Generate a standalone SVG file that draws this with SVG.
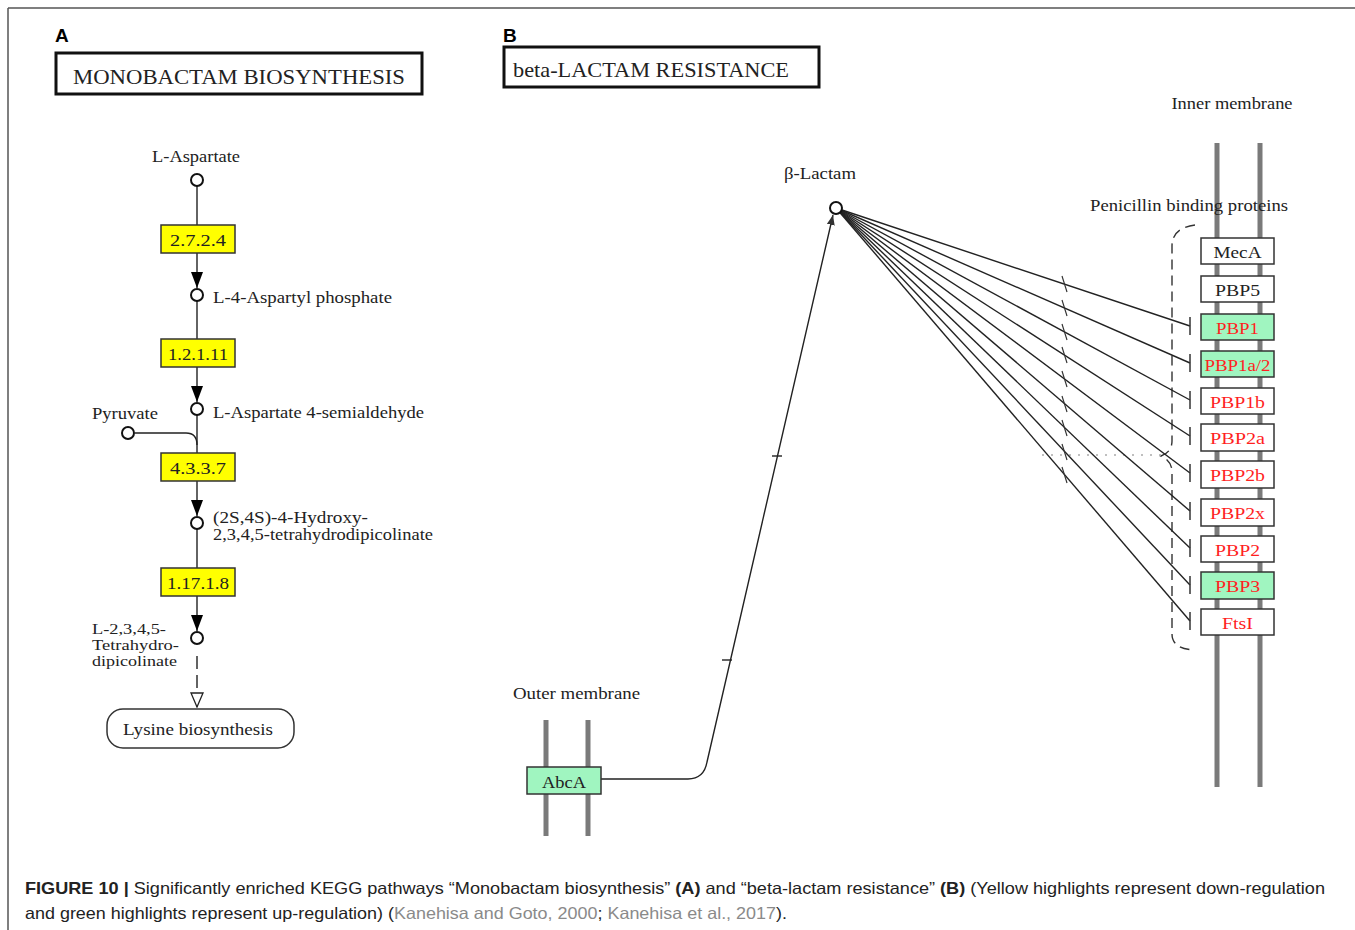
<svg xmlns="http://www.w3.org/2000/svg" width="1355" height="930" viewBox="0 0 1355 930">
<style>
.kl{font-family:"Liberation Serif","DejaVu Serif",serif;font-size:17px;fill:#222}
.ks{font-size:15.5px}
.ttl{font-family:"Liberation Serif","DejaVu Serif",serif;font-size:21px;fill:#222}
.pl{font-family:"Liberation Sans",Arial,sans-serif;font-weight:bold;font-size:19px;fill:#000}
.cap{font-family:"Liberation Sans",Arial,sans-serif;font-size:16.5px;fill:#222}
.cit{fill:#8a8a8a}
.enz{fill:#ffff00;stroke:#333;stroke-width:1.5}
.gene{fill:#fff;stroke:#333;stroke-width:1.5}
.up{fill:#a0f5c0;stroke:#333;stroke-width:1.5}
.red{fill:#ff1f1f}
.cpd{fill:#fff;stroke:#111;stroke-width:2}
.ln{fill:none;stroke:#222;stroke-width:1.4}
.mem{fill:#7a7a7a}
.tb{fill:none;stroke:#333;stroke-width:1.5}
</style>
<defs>
<marker id="arr" viewBox="0 0 16 12" refX="16" refY="6" markerWidth="16" markerHeight="12" markerUnits="userSpaceOnUse" orient="auto">
<path d="M0,0 L16,6 L0,12 z" fill="#000"/>
</marker>
<marker id="oarr" viewBox="0 0 16 14" refX="15" refY="7" markerWidth="16" markerHeight="14" markerUnits="userSpaceOnUse" orient="auto">
<path d="M1,1 L15,7 L1,13 z" fill="#fff" stroke="#222" stroke-width="1.3"/>
</marker>
<marker id="sarr" viewBox="0 0 10 8" refX="10" refY="4" markerWidth="10" markerHeight="8" markerUnits="userSpaceOnUse" orient="auto">
<path d="M0,0 L10,4 L0,8 z" fill="#333"/>
</marker>
</defs>

<!-- frame -->
<g id="frame">
<line x1="8" y1="8" x2="1355" y2="8" stroke="#555" stroke-width="1.5"/>
<line x1="8" y1="8" x2="8" y2="930" stroke="#555" stroke-width="1.5"/>
</g>

<!-- Panel A -->
<g id="panelA-label"><text class="pl" x="55" y="42">A</text></g>
<g id="titleA">
<rect x="56" y="53" width="366" height="41" fill="#fff" stroke="#111" stroke-width="3"/>
<text class="ttl" x="73" y="84" textLength="332" lengthAdjust="spacingAndGlyphs">MONOBACTAM  BIOSYNTHESIS</text>
</g>

<g id="connectorsA">
<line class="ln" x1="197" y1="186" x2="197" y2="225"/>
<line class="ln" x1="197" y1="253" x2="197" y2="288" marker-end="url(#arr)"/>
<line class="ln" x1="197" y1="301" x2="197" y2="339"/>
<line class="ln" x1="197" y1="367" x2="197" y2="402" marker-end="url(#arr)"/>
<line class="ln" x1="197" y1="415" x2="197" y2="453"/>
<path class="ln" d="M135,433 H186 Q197,433 197,445"/>
<line class="ln" x1="197" y1="481" x2="197" y2="516" marker-end="url(#arr)"/>
<line class="ln" x1="197" y1="529" x2="197" y2="568"/>
<line class="ln" x1="197" y1="596" x2="197" y2="631" marker-end="url(#arr)"/>
<line class="ln" x1="197" y1="656" x2="197" y2="707" stroke-dasharray="13 6" marker-end="url(#oarr)"/>
</g>

<g id="c-laspartate">
<text class="kl" x="196" y="162" text-anchor="middle" textLength="88" lengthAdjust="spacingAndGlyphs">L-Aspartate</text>
<circle class="cpd" cx="197" cy="180" r="6"/>
</g>
<g id="e-2724">
<rect class="enz" x="161" y="225" width="74" height="28"/>
<text class="kl" x="198" y="246" text-anchor="middle" textLength="56" lengthAdjust="spacingAndGlyphs">2.7.2.4</text>
</g>
<g id="c-l4asp">
<circle class="cpd" cx="197" cy="295" r="6"/>
<text class="kl" x="213" y="303" textLength="179" lengthAdjust="spacingAndGlyphs">L-4-Aspartyl phosphate</text>
</g>
<g id="e-12111">
<rect class="enz" x="161" y="339" width="74" height="28"/>
<text class="kl" x="198" y="360" text-anchor="middle" textLength="60" lengthAdjust="spacingAndGlyphs">1.2.1.11</text>
</g>
<g id="c-semiald">
<circle class="cpd" cx="197" cy="409" r="6"/>
<text class="kl" x="213" y="418" textLength="211" lengthAdjust="spacingAndGlyphs">L-Aspartate 4-semialdehyde</text>
</g>
<g id="c-pyruvate">
<text class="kl" x="92" y="419" textLength="66" lengthAdjust="spacingAndGlyphs">Pyruvate</text>
<circle class="cpd" cx="128" cy="433" r="6"/>
</g>
<g id="e-4337">
<rect class="enz" x="161" y="453" width="74" height="28"/>
<text class="kl" x="198" y="474" text-anchor="middle" textLength="56" lengthAdjust="spacingAndGlyphs">4.3.3.7</text>
</g>
<g id="c-hthdp">
<circle class="cpd" cx="197" cy="523" r="6"/>
<text class="kl" x="213" y="523" textLength="155" lengthAdjust="spacingAndGlyphs">(2S,4S)-4-Hydroxy-</text>
<text class="kl" x="213" y="540" textLength="220" lengthAdjust="spacingAndGlyphs">2,3,4,5-tetrahydrodipicolinate</text>
</g>
<g id="e-11718">
<rect class="enz" x="161" y="568" width="74" height="28"/>
<text class="kl" x="198" y="589" text-anchor="middle" textLength="62" lengthAdjust="spacingAndGlyphs">1.17.1.8</text>
</g>
<g id="c-thdp">
<circle class="cpd" cx="197" cy="638" r="6"/>
<text class="kl ks" x="92" y="634" textLength="74" lengthAdjust="spacingAndGlyphs">L-2,3,4,5-</text>
<text class="kl ks" x="92" y="650" textLength="87" lengthAdjust="spacingAndGlyphs">Tetrahydro-</text>
<text class="kl ks" x="92" y="666" textLength="85" lengthAdjust="spacingAndGlyphs">dipicolinate</text>
</g>
<g id="m-lysine">
<rect x="107" y="709" width="187" height="39" rx="16" fill="#fff" stroke="#333" stroke-width="1.5"/>
<text class="kl" x="198" y="735" text-anchor="middle" textLength="150" lengthAdjust="spacingAndGlyphs">Lysine biosynthesis</text>
</g>

<!-- Panel B -->
<g id="panelB-label"><text class="pl" x="503" y="42">B</text></g>
<g id="titleB">
<rect x="504" y="47" width="315" height="40" fill="#fff" stroke="#111" stroke-width="3"/>
<text class="ttl" x="513" y="77" textLength="276" lengthAdjust="spacingAndGlyphs">beta-LACTAM  RESISTANCE</text>
</g>

<g id="membranes">
<text class="kl" x="1232" y="109" text-anchor="middle" textLength="121" lengthAdjust="spacingAndGlyphs">Inner membrane</text>
<rect class="mem" x="1214.5" y="143" width="5" height="644"/>
<rect class="mem" x="1257.5" y="143" width="5" height="644"/>
<text class="kl" x="513" y="699" textLength="127" lengthAdjust="spacingAndGlyphs">Outer membrane</text>
<rect class="mem" x="543.5" y="720" width="5" height="116"/>
<rect class="mem" x="585.5" y="720" width="5" height="116"/>
</g>

<g id="pbp-group">
<text class="kl" x="1090" y="211" textLength="198" lengthAdjust="spacingAndGlyphs">Penicillin binding proteins</text>
<path d="M1195,225 Q1172,228 1172,246 L1172,441 Q1172,452 1161,456 Q1172,461 1172,472 L1172,634 Q1172,649 1195,650" fill="none" stroke="#333" stroke-width="1.4" stroke-dasharray="10 6"/>
</g>

<g id="connectorsB">
<line x1="1042" y1="455" x2="1163" y2="455" stroke="#aaa" stroke-width="1.3" stroke-dasharray="2 7"/>
<path class="ln" d="M601,779 H688 Q704,779 707,762 L833,215" marker-end="url(#sarr)"/>
<line class="ln" x1="772" y1="456" x2="782" y2="456"/>
<line class="ln" x1="722" y1="660" x2="732" y2="660"/>
<g class="ln">
<line x1="836" y1="208" x2="1190" y2="326"/>
<line x1="836" y1="208" x2="1190" y2="363"/>
<line x1="836" y1="208" x2="1190" y2="400"/>
<line x1="836" y1="208" x2="1190" y2="436"/>
<line x1="836" y1="208" x2="1190" y2="473"/>
<line x1="836" y1="208" x2="1190" y2="511"/>
<line x1="836" y1="208" x2="1190" y2="548"/>
<line x1="836" y1="208" x2="1190" y2="585"/>
<line x1="836" y1="208" x2="1190" y2="621"/>
</g>
<g class="tb">
<line x1="1190" y1="317" x2="1190" y2="335"/>
<line x1="1190" y1="354" x2="1190" y2="372"/>
<line x1="1190" y1="391" x2="1190" y2="409"/>
<line x1="1190" y1="427" x2="1190" y2="445"/>
<line x1="1190" y1="464" x2="1190" y2="482"/>
<line x1="1190" y1="502" x2="1190" y2="520"/>
<line x1="1190" y1="539" x2="1190" y2="557"/>
<line x1="1190" y1="576" x2="1190" y2="594"/>
<line x1="1190" y1="612" x2="1190" y2="630"/>
</g>
<g stroke="#333" stroke-width="1.2" fill="none">
<line x1="1062" y1="276" x2="1067" y2="292"/>
<line x1="1062" y1="300" x2="1067" y2="316"/>
<line x1="1062" y1="324" x2="1067" y2="340"/>
<line x1="1062" y1="347" x2="1067" y2="363"/>
<line x1="1062" y1="371" x2="1067" y2="387"/>
<line x1="1062" y1="396" x2="1067" y2="412"/>
<line x1="1062" y1="420" x2="1067" y2="436"/>
<line x1="1062" y1="444" x2="1067" y2="460"/>
<line x1="1062" y1="467" x2="1067" y2="483"/>
</g>
</g>

<g id="c-betalactam">
<text class="kl" x="784" y="179" textLength="72" lengthAdjust="spacingAndGlyphs">β-Lactam</text>
<circle class="cpd" cx="836" cy="208" r="6"/>
</g>

<g id="g-abca">
<rect class="up" x="527" y="767" width="74" height="27"/>
<text class="kl" x="564" y="788" text-anchor="middle" textLength="44" lengthAdjust="spacingAndGlyphs">AbcA</text>
</g>

<g id="g-meca"><rect class="gene" x="1201" y="238" width="73" height="26"/><text class="kl" x="1237.5" y="258" text-anchor="middle" textLength="48" lengthAdjust="spacingAndGlyphs">MecA</text></g>
<g id="g-pbp5"><rect class="gene" x="1201" y="276" width="73" height="26"/><text class="kl" x="1237.5" y="296" text-anchor="middle" textLength="45" lengthAdjust="spacingAndGlyphs">PBP5</text></g>
<g id="g-pbp1"><rect class="up" x="1201" y="314" width="73" height="26"/><text class="kl red" x="1237.5" y="334" text-anchor="middle" textLength="43" lengthAdjust="spacingAndGlyphs">PBP1</text></g>
<g id="g-pbp1a2"><rect class="up" x="1201" y="351" width="73" height="26"/><text class="kl red" x="1237.5" y="371" text-anchor="middle" textLength="66" lengthAdjust="spacingAndGlyphs">PBP1a/2</text></g>
<g id="g-pbp1b"><rect class="gene" x="1201" y="388" width="73" height="26"/><text class="kl red" x="1237.5" y="408" text-anchor="middle" textLength="55" lengthAdjust="spacingAndGlyphs">PBP1b</text></g>
<g id="g-pbp2a"><rect class="gene" x="1201" y="424" width="73" height="27"/><text class="kl red" x="1237.5" y="444" text-anchor="middle" textLength="55" lengthAdjust="spacingAndGlyphs">PBP2a</text></g>
<g id="g-pbp2b"><rect class="gene" x="1201" y="461" width="73" height="27"/><text class="kl red" x="1237.5" y="481" text-anchor="middle" textLength="55" lengthAdjust="spacingAndGlyphs">PBP2b</text></g>
<g id="g-pbp2x"><rect class="gene" x="1201" y="499" width="73" height="27"/><text class="kl red" x="1237.5" y="519" text-anchor="middle" textLength="55" lengthAdjust="spacingAndGlyphs">PBP2x</text></g>
<g id="g-pbp2"><rect class="gene" x="1201" y="536" width="73" height="26"/><text class="kl red" x="1237.5" y="556" text-anchor="middle" textLength="45" lengthAdjust="spacingAndGlyphs">PBP2</text></g>
<g id="g-pbp3"><rect class="up" x="1201" y="572" width="73" height="27"/><text class="kl red" x="1237.5" y="592" text-anchor="middle" textLength="45" lengthAdjust="spacingAndGlyphs">PBP3</text></g>
<g id="g-ftsi"><rect class="gene" x="1201" y="609" width="73" height="26"/><text class="kl red" x="1237.5" y="629" text-anchor="middle" textLength="31" lengthAdjust="spacingAndGlyphs">FtsI</text></g>

<!-- caption -->
<g id="caption">
<text class="cap" x="25" y="894" textLength="1300" lengthAdjust="spacingAndGlyphs"><tspan font-weight="bold">FIGURE 10 | </tspan>Significantly enriched KEGG pathways “Monobactam biosynthesis” <tspan font-weight="bold">(A)</tspan> and “beta-lactam resistance” <tspan font-weight="bold">(B)</tspan> (Yellow highlights represent down-regulation</text>
<text class="cap" x="25" y="919" textLength="762" lengthAdjust="spacingAndGlyphs">and green highlights represent up-regulation) (<tspan class="cit">Kanehisa and Goto, 2000</tspan>; <tspan class="cit">Kanehisa et al., 2017</tspan>).</text>
</g>
</svg>
